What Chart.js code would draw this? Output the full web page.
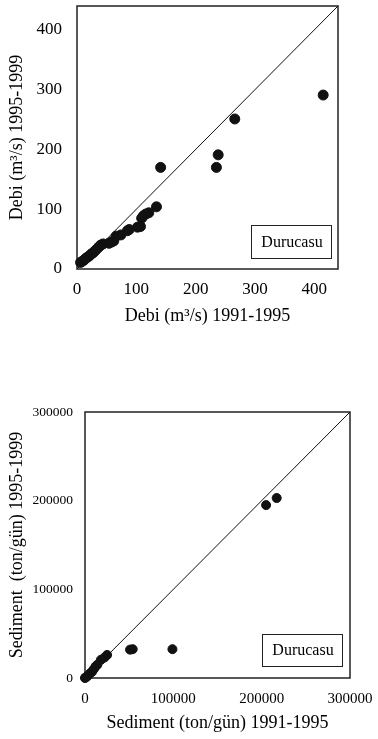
<!DOCTYPE html>
<html>
<head>
<meta charset="utf-8">
<script src="https://cdn.jsdelivr.net/npm/chart.js@4"></script>
<style>
  html, body { margin: 0; padding: 0; background: #fff; }
  body { width: 378px; height: 739px; position: relative; overflow: hidden; }
  .box { position: absolute; left: 0; width: 378px; }
  #top-box { top: 0; height: 330px; }
  #bottom-box { top: 380px; height: 359px; }
</style>
</head>
<body>
<div class="box" id="top-box"><canvas id="debiChart" width="378" height="330"></canvas></div>
<div class="box" id="bottom-box"><canvas id="sedChart" width="378" height="359"></canvas></div>
<script>
// --- Debi (flow) data, m3/s ---
const debiX = [415, 266, 238, 235, 141, 134, 121, 116, 112, 109, 107, 102, 88, 85, 74, 66, 62, 58, 54, 44, 40, 37, 33, 30, 27, 24, 21, 18, 15, 12, 9, 6];
const debiY = [291, 251, 191, 170, 170, 104, 94, 92, 89, 85, 71, 70, 66, 64, 57, 55, 47, 45, 43, 42, 40, 37, 33, 30, 27, 25, 22, 20, 18, 15, 13, 11];
const debiTicks = [0, 100, 200, 300, 400];
const debiMax = 440;

// --- Sediment data, ton/gün ---
const sedX = [217000, 205000, 99000, 54000, 51000, 25000, 22000, 18000, 14000, 12000, 10000, 8000, 6000, 3500, 2000, 500, 0];
const sedY = [203000, 195000, 32500, 32500, 32000, 26000, 23000, 20500, 15000, 13000, 10000, 7000, 5500, 3000, 1500, 500, 0];
const sedTicks = [0, 100000, 200000, 300000];
const sedMax = 300000;

const legendLabel = 'Durucasu';
const serif = "'Liberation Serif', 'Times New Roman', serif";

Chart.defaults.color = '#000';
Chart.defaults.font.family = serif;

const toPoints = (xs, ys) => xs.map((x, i) => ({ x: x, y: ys[i] }));

// fixed axis sizes, no extra label padding so the plot box lands where it should
function fixSize(prop, size) {
    return s => {
        s[prop] = size;
        s.paddingTop = 0; s.paddingBottom = 0;
        s.paddingLeft = 0; s.paddingRight = 0;
    };
}

// frame around plot area + the station label box
const framePlugin = {
    id: 'frame',
    beforeDatasetsDraw(chart) {
        const a = chart.chartArea;
        const ctx = chart.ctx;
        ctx.save();
        ctx.strokeStyle = '#222';
        ctx.lineWidth = 1.5;
        ctx.strokeRect(a.left, a.top, a.right - a.left, a.bottom - a.top);
        ctx.restore();
    },
    afterDatasetsDraw(chart, args, opts) {
        const a = chart.chartArea;
        const ctx = chart.ctx;
        const w = 80, h = opts.boxH;
        const x = a.right - opts.insetR - w;
        const y = a.bottom - opts.insetB - h;
        ctx.save();
        ctx.fillStyle = '#fff';
        ctx.fillRect(x, y, w, h);
        ctx.strokeStyle = '#222';
        ctx.lineWidth = 1;
        ctx.strokeRect(x + 0.5, y + 0.5, w, h);
        ctx.fillStyle = '#000';
        ctx.font = '16px ' + serif;
        ctx.textAlign = 'center';
        ctx.textBaseline = 'middle';
        ctx.fillText(legendLabel, x + w / 2 + 1, y + h / 2 + 1);
        ctx.restore();
    }
};

function makeChart(id, cfg) {
    const ctx = document.getElementById(id).getContext('2d');
    return new Chart(ctx, {
        type: 'scatter',
        data: {
            datasets: [{
                data: toPoints([0, cfg.max], [0, cfg.max]),
                showLine: true,
                borderColor: '#111',
                borderWidth: 1,
                pointRadius: 0,
                pointHoverRadius: 0
            }, {
                data: toPoints(cfg.xs, cfg.ys),
                backgroundColor: '#111',
                borderColor: '#111',
                pointRadius: cfg.radius,
                pointHoverRadius: cfg.radius,
                clip: false
            }]
        },
        options: {
            responsive: false,
            animation: false,
            devicePixelRatio: 1,
            layout: { padding: cfg.pad },
            plugins: {
                legend: { display: false },
                tooltip: { enabled: false },
                frame: cfg.box
            },
            scales: {
                x: {
                    type: 'linear', min: 0, max: cfg.max,
                    grid: { display: false, drawTicks: false },
                    border: { display: false },
                    ticks: { padding: cfg.xTickPad, maxRotation: 0, font: { size: cfg.xTickSize }, callback: v => String(v) },
                    afterBuildTicks: s => { s.ticks = cfg.ticks.map(v => ({ value: v })); },
                    afterFit: fixSize('height', cfg.xAxisH),
                    title: { display: true, text: cfg.xTitle, font: { size: 18 }, padding: { top: 0, bottom: cfg.xTitlePad } }
                },
                y: {
                    type: 'linear', min: 0, max: cfg.max,
                    grid: { display: false, drawTicks: false },
                    border: { display: false },
                    ticks: { padding: cfg.yTickPad, font: { size: cfg.yTickSize }, callback: v => String(v) },
                    afterBuildTicks: s => { s.ticks = cfg.ticks.map(v => ({ value: v })); },
                    afterFit: fixSize('width', cfg.yAxisW),
                    title: { display: true, text: cfg.yTitle, font: { size: 18 }, padding: { top: cfg.yTitlePad, bottom: 0 } }
                }
            }
        },
        plugins: [framePlugin]
    });
}

makeChart('debiChart', {
    xs: debiX, ys: debiY, max: debiMax, ticks: debiTicks, radius: 5,
    pad: { left: 0, right: 40, top: 3, bottom: 0 },
    xAxisH: 61, yAxisW: 77,
    xTickPad: 10, yTickPad: 15, xTickSize: 17, yTickSize: 17,
    xTitlePad: 3, yTitlePad: 6,
    xTitle: 'Debi (m³/s) 1991-1995',
    yTitle: 'Debi (m³/s) 1995-1999',
    box: { boxH: 33, insetR: 7, insetB: 11 }
});

makeChart('sedChart', {
    xs: sedX, ys: sedY, max: sedMax, ticks: sedTicks, radius: 4.5,
    pad: { left: 0, right: 28, top: 32, bottom: 0 },
    xAxisH: 61, yAxisW: 85,
    xTickPad: 12, yTickPad: 12, xTickSize: 15, yTickSize: 13.5,
    xTitlePad: 5, yTitlePad: 6,
    xTitle: 'Sediment (ton/gün) 1991-1995',
    yTitle: 'Sediment  (ton/gün) 1995-1999',
    box: { boxH: 32, insetR: 8, insetB: 12 }
});
</script>
</body>
</html>
